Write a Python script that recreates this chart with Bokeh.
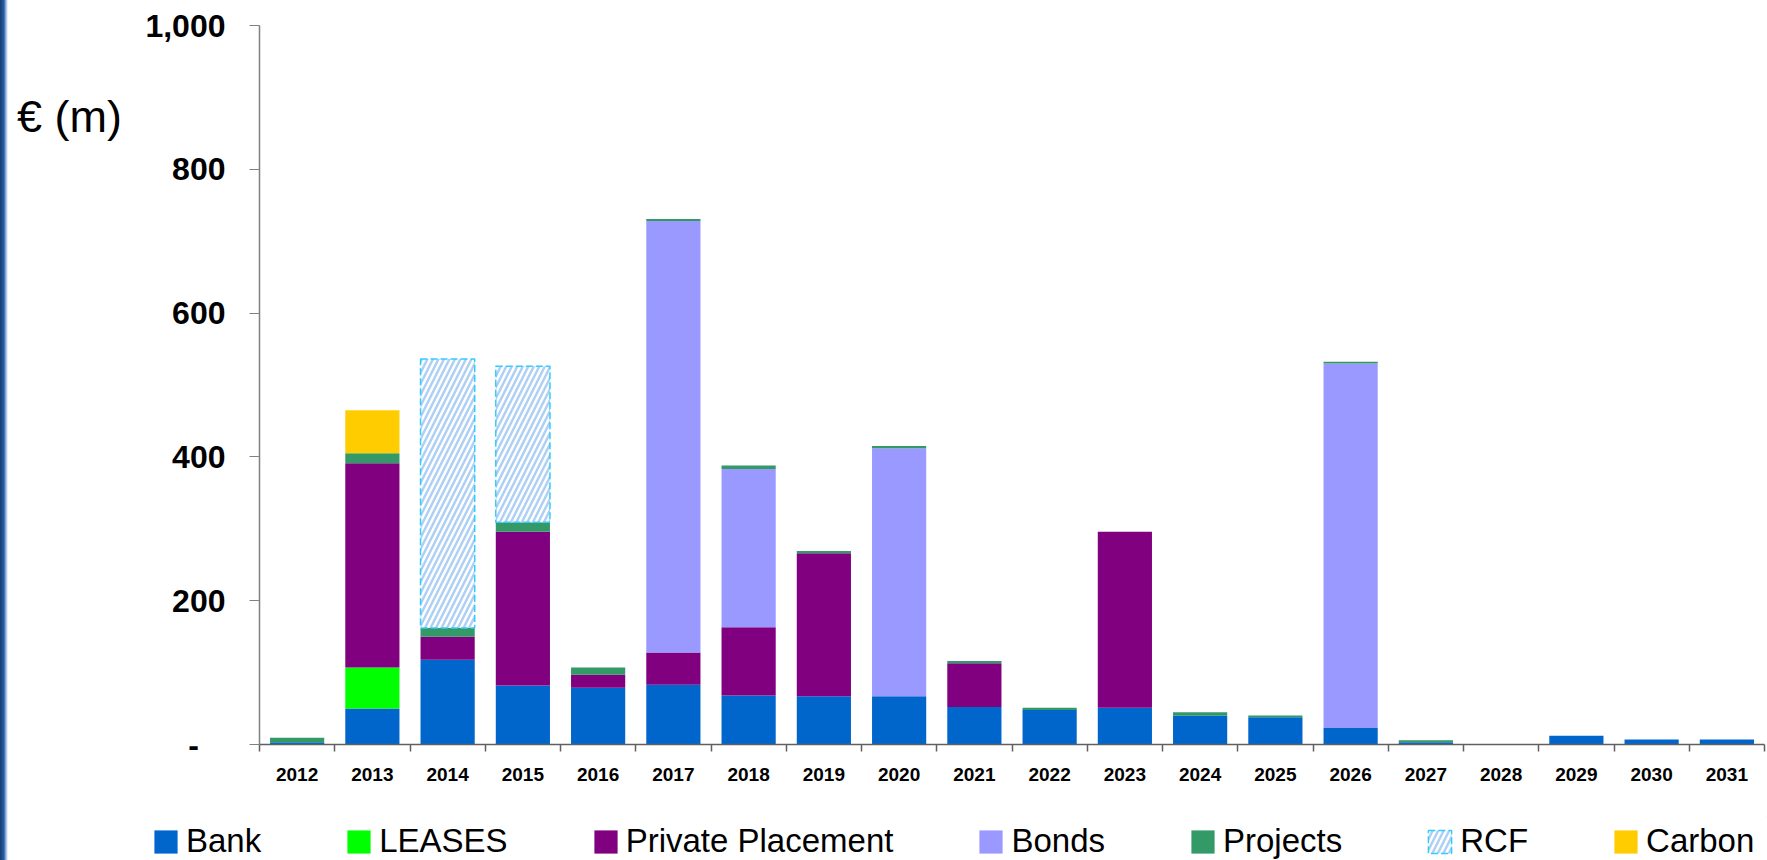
import numpy as np
from bokeh.plotting import figure
from bokeh.layouts import row, column
from bokeh.models import (ColumnDataSource, FixedTicker, CustomJSTickFormatter, Range1d,
                          Legend, LegendItem, NumeralTickFormatter, CDSView, BooleanFilter, Div)
from bokeh.transform import stack
from bokeh.embed import file_html
from bokeh.resources import INLINE

# ---- data (EUR m) ----
years = [str(y) for y in range(2012, 2032)]
bank     = [3, 50, 118, 82, 79, 83, 68, 67, 67, 52, 48, 51, 40, 38, 23, 3, 0, 12, 7, 7]
leases   = [0, 57, 0, 0, 0, 0, 0, 0, 0, 0, 0, 0, 0, 0, 0, 0, 0, 0, 0, 0]
private  = [0, 284, 32, 214, 18, 45, 95, 199, 0, 61, 0, 245, 0, 0, 0, 0, 0, 0, 0, 0]
bonds    = [0, 0, 0, 0, 0, 600, 220, 0, 345, 0, 0, 0, 0, 0, 507, 0, 0, 0, 0, 0]
projects = [6.5, 14, 12, 13, 10, 3, 5, 3, 3, 3, 3, 0, 5, 2.5, 2.5, 3, 0, 0, 0, 0]
rcf      = [0, 0, 374, 217, 0, 0, 0, 0, 0, 0, 0, 0, 0, 0, 0, 0, 0, 0, 0, 0]
carbon   = [0, 60, 0, 0, 0, 0, 0, 0, 0, 0, 0, 0, 0, 0, 0, 0, 0, 0, 0, 0]

series = ["Bank", "LEASES", "Private Placement", "Bonds", "Projects", "RCF", "Carbon"]
values = [bank, leases, private, bonds, projects, rcf, carbon]
colors = ["#0066CC", "#00FF00", "#800080", "#9999FF", "#339966", "#FFFFFF", "#FFCC00"]
y_ticks = [0, 200, 400, 600, 800, 1000]
unit_label = "€ (m)"

STRIPE = ("linear-gradient(to right, #173d73 0px, #2c5fa6 4px, #9dbbe2 6px, "
          "#ffffff 8px, #ffffff 100%)")
RCF_STYLE = dict(fill_color="white", hatch_pattern="/", hatch_color="#AED0F4",
                 hatch_scale=11, hatch_weight=2.5, line_color="#33CCFF",
                 line_dash="7 3", line_width=1.5)

# ---- source ----
x_centers = np.arange(len(years)) + 0.5
data = {"x": x_centers}
for name, vals in zip(series, values):
    data[name] = vals
src = ColumnDataSource(data)
rcf_view = CDSView(filter=BooleanFilter([v > 0 for v in rcf]))


def add_bars(fig):
    rs = []
    for i, (name, col) in enumerate(zip(series, colors)):
        kw = dict(x="x", width=0.72, bottom=stack(*series[:i]), top=stack(*series[:i + 1]),
                  source=src)
        if name == "RCF":
            rs.append(fig.vbar(view=rcf_view, **RCF_STYLE, **kw))
        else:
            rs.append(fig.vbar(fill_color=col, line_color=None, **kw))
    return rs


p = figure(width=1648, height=816, output_backend="svg", toolbar_location=None,
           x_range=Range1d(0, len(years)), y_range=Range1d(0, 1000),
           min_border_left=140, min_border_right=3, min_border_top=25, min_border_bottom=72)
p.outline_line_color = None
p.xgrid.visible = False
p.ygrid.visible = False
p.background_fill_color = "white"
p.border_fill_color = "white"
add_bars(p)

# ---- y axis ----
p.yaxis.ticker = FixedTicker(ticks=y_ticks)
p.yaxis.formatter = NumeralTickFormatter(format="0,0")
p.yaxis.major_label_overrides = {0: "-\u00a0\u00a0\u00a0"}
p.yaxis.major_label_text_font = "Liberation Sans"
p.yaxis.major_label_text_font_style = "bold"
p.yaxis.major_label_text_font_size = "32px"
p.yaxis.major_label_text_color = "black"
p.yaxis.major_label_standoff = 24
p.yaxis.major_tick_out = 10
p.yaxis.major_tick_in = 0
p.yaxis.minor_tick_line_color = None
p.yaxis.axis_line_color = "#808080"
p.yaxis.major_tick_line_color = "#808080"
p.yaxis.axis_line_width = 1.5

# ---- x axis ----
boundaries = list(np.arange(len(years) + 1))
p.xaxis.ticker = FixedTicker(ticks=list(x_centers), minor_ticks=boundaries)
p.xaxis.formatter = CustomJSTickFormatter(args=dict(years=years),
                                          code="return years[Math.floor(tick)];")
p.xaxis.major_label_text_font = "Liberation Sans"
p.xaxis.major_label_text_font_style = "bold"
p.xaxis.major_label_text_font_size = "19px"
p.xaxis.major_label_text_color = "black"
p.xaxis.major_tick_line_alpha = 0
p.xaxis.major_tick_out = 6
p.xaxis.major_tick_in = 0
p.xaxis.major_label_standoff = 16
p.xaxis.minor_tick_out = 7
p.xaxis.minor_tick_in = 0
p.xaxis.minor_tick_line_color = "#606060"
p.xaxis.minor_tick_line_width = 1.5
p.xaxis.axis_line_color = "#606060"
p.xaxis.axis_line_width = 1.5

# ---- legend strip: same bar renderers, x range away from the data so only the keys show ----
lf = figure(width=1648, height=44, output_backend="svg", toolbar_location=None,
            x_range=Range1d(-3, -2), y_range=Range1d(0, 1), min_border=0,
            x_axis_location=None, y_axis_location=None)
lf.outline_line_color = None
lf.xgrid.visible = False
lf.ygrid.visible = False
key_renderers = add_bars(lf)
legend = Legend(items=[LegendItem(label=n, renderers=[r]) for n, r in zip(series, key_renderers)],
                orientation="horizontal", location=(32, 0),
                glyph_width=29, glyph_height=29, label_standoff=6, spacing=83,
                padding=0, margin=0, border_line_color=None, background_fill_alpha=0,
                label_text_font="Liberation Sans", label_text_font_size="33px",
                label_text_color="black", label_height=29, label_width=0)
lf.add_layout(legend)

# ---- unit label at the left ----
div = Div(text=unit_label, width=119, height=816, margin=0,
          styles={"font-family": "Liberation Sans", "font-size": "45px", "color": "black",
                  "white-space": "nowrap", "padding-top": "85px", "padding-left": "17px",
                  "box-sizing": "border-box", "background": STRIPE})
div2 = Div(text="", width=119, height=44, margin=0, styles={"background": STRIPE})

layout = column(row(div, p, spacing=0), row(div2, lf, spacing=0), spacing=0)
open("out.html", "w").write(file_html(layout, INLINE))
